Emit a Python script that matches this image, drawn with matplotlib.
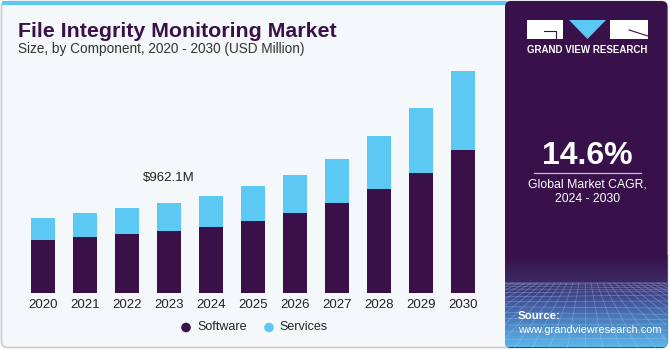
import matplotlib
matplotlib.use("Agg")
import matplotlib.pyplot as plt
import numpy as np
from matplotlib.patches import FancyBboxPatch, Rectangle, Polygon, Circle
from matplotlib.colors import LinearSegmentedColormap

years = ["2020", "2021", "2022", "2023", "2024", "2025", "2026", "2027", "2028", "2029", "2030"]
software = [573, 599, 631, 669, 709, 776, 858, 965, 1112, 1283, 1535]
services = [229, 256, 278, 293, 331, 371, 410, 471, 566, 695, 841]
annotation_year = "2023"
annotation_text = "$962.1M"

title = "File Integrity Monitoring Market"
subtitle = "Size, by Component, 2020 - 2030 (USD Million)"
cagr = "14.6%"
cagr_label = "Global Market CAGR,\n2024 - 2030"

C_SOFT = "#3A1048"
C_SERV = "#5CC9F5"
C_BG = "#F4F8FB"
C_PANEL = "#38114A"
FONT = "Liberation Sans"

W, H = 670, 350
fig = plt.figure(figsize=(W / 100, H / 100), dpi=100)
fig.patch.set_facecolor("white")

# decoration axes in pixel coordinates
deco = fig.add_axes([0, 0, 1, 1])
deco.set_xlim(0, W)
deco.set_ylim(H, 0)
deco.axis("off")

# card
deco.add_patch(FancyBboxPatch((1.5, 1.5), W - 4, H - 4, boxstyle="round,pad=0,rounding_size=6",
                              facecolor=C_BG, edgecolor="#C8CCD0", lw=1.2, zorder=0))
# top blue strip
deco.add_patch(Rectangle((2, 0.5), 505, 4.5, facecolor=C_SERV, edgecolor="none", zorder=1))

# right panel
px0 = 505
panel = FancyBboxPatch((px0, 1), W - px0 - 2.5, H - 3, boxstyle="round,pad=0,rounding_size=6",
                       facecolor=C_PANEL, edgecolor="none", zorder=1)
deco.add_patch(panel)
# bottom gradient
grad = LinearSegmentedColormap.from_list(
    "g", [(0, "#38114A"), (0.3, "#3B2A66"), (0.5, "#43549A"), (0.75, "#4D86C4"), (1, "#5BB6EA")])
g = np.linspace(0, 1, 100).reshape(-1, 1)
im = deco.imshow(g, cmap=grad, extent=(px0, W - 2.5, 347, 255), aspect="auto", zorder=2,
                 interpolation="bilinear")
im.set_clip_path(panel)
band = Rectangle((px0, 282), W - px0 - 2.5, 1.0, facecolor="#6D6AA8", alpha=0.5,
                 edgecolor="none", zorder=3)
deco.add_patch(band)
band.set_clip_path(panel)
# perspective grid
for i in range(-14, 30):
    x_top = px0 + 80 + i * 6
    x_bot = px0 + 80 + i * 18
    ln, = deco.plot([x_top, x_bot], [283, 350], color="#A8D0F4", lw=0.45, alpha=0.45, zorder=3)
    ln.set_clip_path(panel)
for k in range(14):
    yy = 283 + (k / 13) ** 1.6 * 64
    ln, = deco.plot([px0, W - 3], [yy, yy + 2 * np.sin(k)], color="#A8D0F4", lw=0.45, alpha=0.45,
                    zorder=3)
    ln.set_clip_path(panel)
deco.set_xlim(0, W)
deco.set_ylim(H, 0)

# logo
deco.add_patch(Rectangle((527, 20), 36, 19, facecolor="white", edgecolor="none", zorder=4))
deco.plot([544, 556, 556], [31, 31, 39], color=C_PANEL, lw=0.8, zorder=5)
deco.add_patch(Polygon([(569, 20), (606, 20), (587.5, 39)], closed=True, facecolor=C_SERV,
                       edgecolor="none", zorder=4))
deco.add_patch(Rectangle((610, 20), 38, 19, facecolor="white", edgecolor="none", zorder=4))
deco.plot([629, 648], [30, 36], color=C_PANEL, lw=0.8, zorder=5)
deco.text(587.5, 50, "GRAND VIEW RESEARCH", color="white", fontsize=7.0, fontweight="bold",
          family=FONT, ha="center", va="center", zorder=5)

# CAGR
deco.text(587.5, 156, cagr, color="white", fontsize=23, fontweight="bold", family=FONT,
          ha="center", va="center", zorder=5)
deco.plot([534, 641], [173, 173], color="#C9C0D6", lw=0.9, zorder=5)
deco.text(587.5, 192, cagr_label, color="white", fontsize=8.8, family=FONT, ha="center",
          va="center", linespacing=1.3, zorder=5)

# source
deco.text(518, 316, "Source:", color="white", fontsize=8.2, fontweight="bold", family=FONT,
          ha="left", va="center", zorder=5)
deco.text(518, 330, "www.grandviewresearch.com", color="white", fontsize=7.9, family=FONT,
          ha="left", va="center", zorder=5)

# titles
deco.text(18, 37, title, color=C_SOFT, fontsize=15.4, fontweight="heavy", family=FONT,
          ha="left", va="baseline", zorder=5)
deco.text(18, 53, subtitle, color="#333333", fontsize=9.8, family=FONT, ha="left",
          va="baseline", zorder=5)

# chart axes
ax_left, ax_right = 22, 484
base = 293.3
top = 60
ax = fig.add_axes([ax_left / W, (H - base) / H, (ax_right - ax_left) / W, (base - top) / H])
ax.patch.set_alpha(0)
x = np.arange(len(years))
ax.bar(x, software, width=0.575, color=C_SOFT, zorder=2)
ax.bar(x, services, width=0.575, bottom=software, color=C_SERV, zorder=2)
ax.set_xlim(-0.5, len(years) - 0.5)
ax.set_ylim(0, (base - top) * 10.69)
ax.set_xticks(x)
ax.set_xticklabels(years, fontsize=9.5, family=FONT, color="#222222")
ax.tick_params(axis="x", length=0, pad=4)
ax.set_yticks([])
for s in ax.spines.values():
    s.set_visible(False)

i = years.index(annotation_year)
ax.annotate(annotation_text, (i, software[i] + services[i]), xytext=(0, 14),
            textcoords="offset points", ha="center", va="bottom", fontsize=9.5,
            family=FONT, color="#222222")

# legend
deco.add_patch(Circle((186, 327.5), 4.8, facecolor=C_SOFT, edgecolor="none", zorder=5))
deco.text(197, 327.5, "Software", fontsize=9, family=FONT, color="#222222", ha="left", va="center")
deco.add_patch(Circle((269, 327.5), 4.8, facecolor=C_SERV, edgecolor="none", zorder=5))
deco.text(279, 327.5, "Services", fontsize=9, family=FONT, color="#222222", ha="left", va="center")

fig.savefig("out.png", dpi=100, facecolor="white")
